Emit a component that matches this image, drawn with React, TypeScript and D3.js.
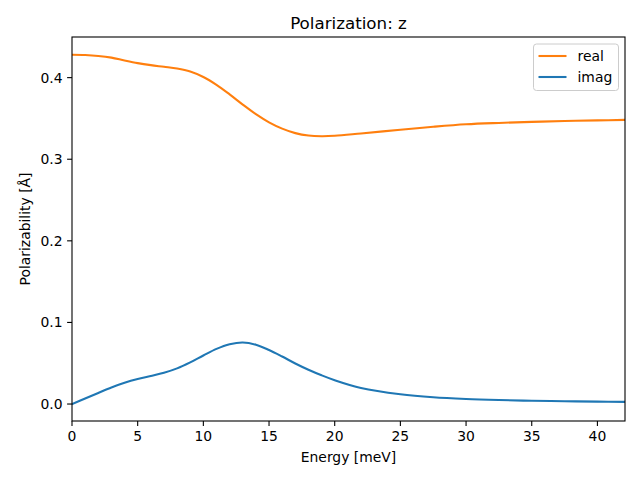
import React from "react";
import * as d3 from "d3";

const energy = [0, 1, 2, 3, 4, 5, 6, 7, 8, 9, 10, 11, 12, 13, 14, 15, 16, 17, 18, 19, 20, 22, 25, 27.5, 30, 32.5, 35, 37.5, 40, 42.1];
const realVals = [0.428, 0.4277, 0.4266, 0.4245, 0.421, 0.4178, 0.4153, 0.4133, 0.4112, 0.4075, 0.4008, 0.3912, 0.3795, 0.367, 0.3552, 0.3452, 0.3375, 0.332, 0.329, 0.3282, 0.3287, 0.3316, 0.3362, 0.3398, 0.3428, 0.3445, 0.3458, 0.3468, 0.3476, 0.3482];
const imagVals = [0, 0.0068, 0.0136, 0.0203, 0.026, 0.0306, 0.0343, 0.0383, 0.0437, 0.051, 0.0595, 0.0676, 0.0733, 0.0755, 0.0727, 0.0662, 0.0582, 0.0497, 0.042, 0.0352, 0.0292, 0.0197, 0.012, 0.0083, 0.0062, 0.0049, 0.004, 0.0034, 0.0029, 0.0026];
const xTicks = [0, 5, 10, 15, 20, 25, 30, 35, 40];
const yTicks = [0.0, 0.1, 0.2, 0.3, 0.4];
const seriesNames = ["real", "imag"];
const seriesColors = ["#ff7f0e", "#1f77b4"];

export default function App() {
  const W = 640, H = 480;
  const left = 72, right = 625, top = 37, bottom = 421;
  const x = d3.scaleLinear().domain([0, 42.1]).range([left, right]);
  const y = d3.scaleLinear().domain([-0.0208, 0.4498]).range([bottom, top]);
  const font = "DejaVu Sans, sans-serif";
  const line = d3
    .line<number>()
    .x((_, i) => x(energy[i]))
    .y((d) => y(d))
    .curve(d3.curveCatmullRom.alpha(0.5));
  const series = [realVals, imagVals];
  return (
    <svg width={W} height={H} style={{ position: "absolute", left: 0, top: 0 }} fontFamily={font}>
      <rect x={0} y={0} width={W} height={H} fill="white" />
      <defs>
        <clipPath id="clip">
          <rect x={left} y={top} width={right - left} height={bottom - top} />
        </clipPath>
      </defs>
      <g clipPath="url(#clip)">
        {series.map((s, k) => (
          <path key={k} d={line(s) || ""} fill="none" stroke={seriesColors[k]} strokeWidth={2.08} strokeLinejoin="round" strokeLinecap="square" />
        ))}
      </g>
      <rect x={left} y={top} width={right - left} height={bottom - top} fill="none" stroke="black" strokeWidth={1.1} />
      {xTicks.map((t) => (
        <g key={t}>
          <line x1={x(t)} x2={x(t)} y1={bottom} y2={bottom + 4.9} stroke="black" strokeWidth={1.1} />
          <text x={x(t)} y={bottom + 9.5} fontSize={13.9} textAnchor="middle" dominantBaseline="hanging" fill="#000">
            {t}
          </text>
        </g>
      ))}
      {yTicks.map((t) => (
        <g key={t}>
          <line x1={left - 4.9} x2={left} y1={y(t)} y2={y(t)} stroke="black" strokeWidth={1.1} />
          <text x={left - 9.5} y={y(t)} fontSize={13.9} textAnchor="end" dominantBaseline="central" fill="#000">
            {t.toFixed(1)}
          </text>
        </g>
      ))}
      <text x={(left + right) / 2} y={29} fontSize={16.7} textAnchor="middle" fill="#000">
        Polarization: z
      </text>
      <text x={(left + right) / 2} y={462} fontSize={13.9} textAnchor="middle" fill="#000">
        Energy [meV]
      </text>
      <text transform={`translate(30, ${(top + bottom) / 2}) rotate(-90)`} fontSize={13.9} textAnchor="middle" fill="#000">
        Polarizability [Å]
      </text>
      <g>
        <rect x={533.5} y={44} width={85} height={46.5} rx={3} fill="white" fillOpacity={0.8} stroke="#cccccc" strokeWidth={1} />
        {seriesNames.map((n, k) => (
          <g key={n}>
            <line x1={538.5} x2={566.5} y1={56 + k * 21} y2={56 + k * 21} stroke={seriesColors[k]} strokeWidth={2.08} />
            <text x={577.5} y={56 + k * 21} fontSize={13.9} dominantBaseline="central" fill="#000">
              {n}
            </text>
          </g>
        ))}
      </g>
    </svg>
  );
}
